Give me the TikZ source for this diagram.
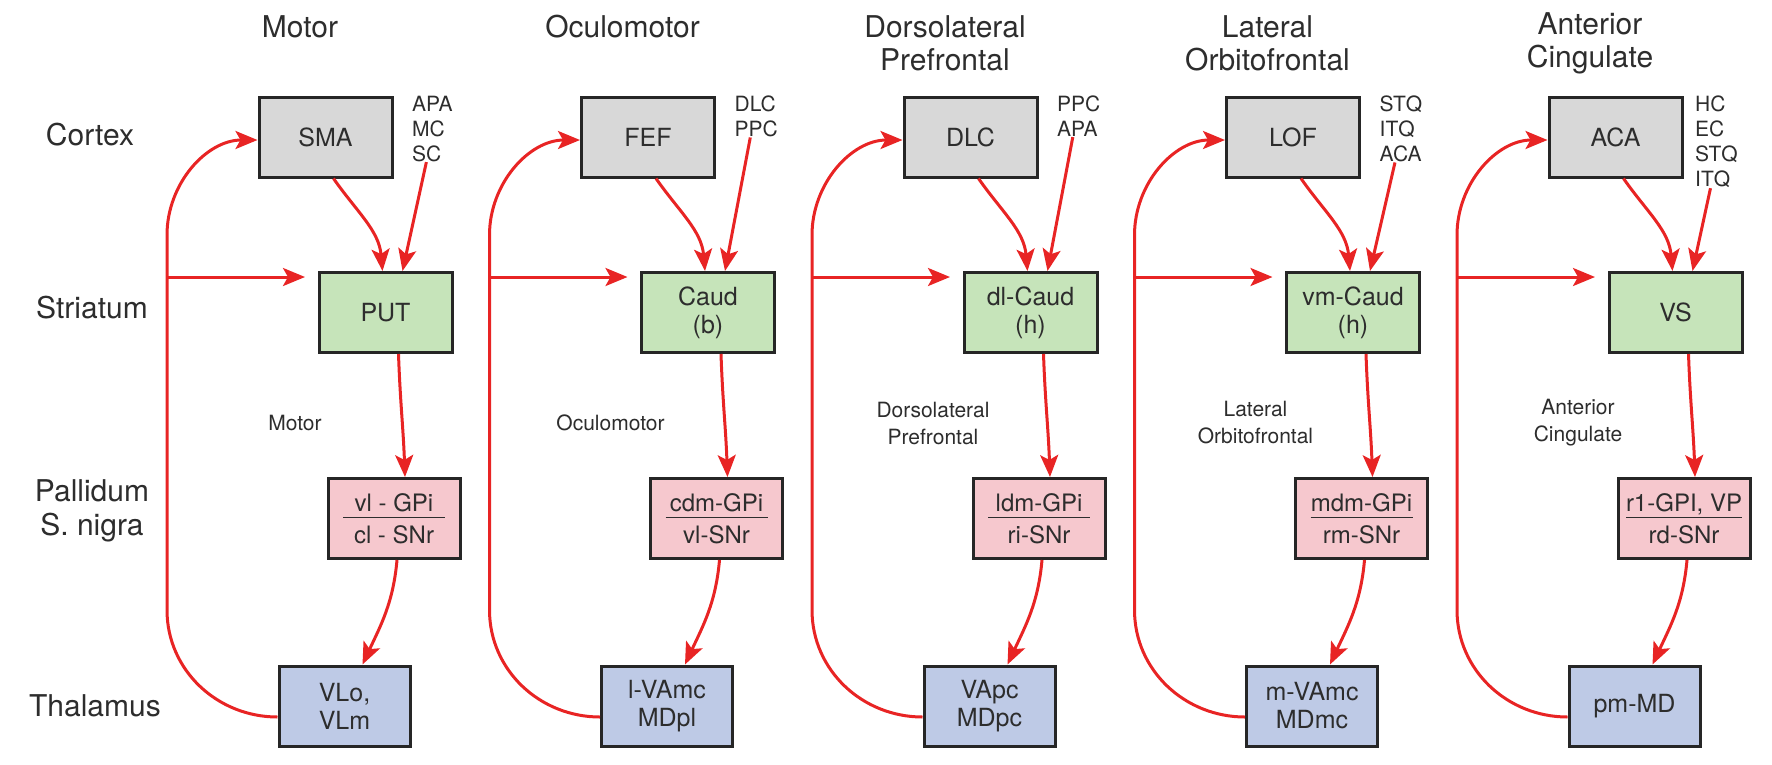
\documentclass[tikz,border=0pt]{standalone}
\usepackage{fontspec}
\setmainfont{TeX Gyre Heros}
\usetikzlibrary{arrows.meta}

\definecolor{ctxgray}{RGB}{216,216,216}
\definecolor{strgreen}{RGB}{198,228,186}
\definecolor{palpink}{RGB}{246,200,206}
\definecolor{thalblue}{RGB}{190,202,230}
\definecolor{arrred}{RGB}{232,36,36}
\definecolor{txtgray}{RGB}{45,45,45}

\tikzset{
  box/.style={draw=black!85, line width=3pt, minimum width=133pt, minimum height=80pt,
    inner sep=0pt, align=center, text=txtgray, font=\fontsize{25}{28}\selectfont},
  ctx/.style={box, fill=ctxgray},
  str/.style={box, fill=strgreen},
  pal/.style={box, fill=palpink, minimum width=132pt, font=\fontsize{24}{32}\selectfont},
  thal/.style={box, fill=thalblue, minimum width=131pt},
  title/.style={align=center, text=txtgray, font=\fontsize{30}{33}\selectfont},
  row/.style={align=center, text=txtgray, font=\fontsize{30}{34}\selectfont},
  side/.style={align=left, text=txtgray, inner sep=0pt, font=\fontsize{21}{25}\selectfont},
  mid/.style={align=center, text=txtgray, font=\fontsize{21}{27}\selectfont},
  arr/.style={draw=arrred, line width=3pt, -{Stealth[length=22pt,width=18pt,inset=5pt]}},
  sep/.style={draw=txtgray, line width=1.5pt}
}

\begin{document}
\begin{tikzpicture}[x=1pt,y=1pt]
\useasboundingbox (0,0) rectangle (1772,-764);

% row labels
\node[row] (rctx) at (90,-135) {Cortex};
\node[row] (rstr) at (92,-308) {Striatum};
\node[row] (rpal) at (92,-511) {Pallidum\\S. nigra};
\node[row] (rthal) at (95,-706) {Thalamus};

% motor
\begin{scope}[xshift=0pt]
\node[title] (tA) at (300,-27) {Motor};
\node[ctx] (ctxA) at (325.5,-137) {SMA};
\node[side, anchor=north west] (sdA) at (412,-96) {APA\\MC\\SC};
\node[str] (strA) at (385.5,-312.5) {PUT};
\node[mid] (mA) at (295,-423) {Motor};
\node[pal] (palA) at (394,-518.5) {vl - GPi\\cl - SNr};
\node[thal] (thA) at (344.5,-706) {VLo,\\VLm};
\coordinate (lbA) at (167,-610);
\coordinate (ltA) at (167,-235);
\coordinate (lpA) at (167,-277);
\coordinate (enA) at (305,-277);
\draw[sep] ([xshift=-51pt,yshift=1pt]palA.center) -- ([xshift=51pt,yshift=1pt]palA.center);
\draw[arr] ([xshift=8pt]ctxA.south) to[out=-55,in=95] ([xshift=-3pt]strA.north);
\draw[arr] ([xshift=-6pt]sdA.south) -- ([xshift=17pt]strA.north);
\draw[arr] ([xshift=13pt]strA.south) to[out=-88,in=92] ([xshift=11pt]palA.north);
\draw[arr] ([xshift=3pt]palA.south) to[out=-95,in=65] ([xshift=18pt]thA.north);
\draw[arr] ([yshift=-11pt]thA.west) to[out=180,in=-90] (lbA) -- (ltA) to[out=90,in=180] ([yshift=-3pt]ctxA.west);
\draw[arr] (lpA) -- (enA);
\end{scope}

% oculomotor
\begin{scope}[xshift=322.5pt]
\node[title] (tB) at (300,-27) {Oculomotor};
\node[ctx] (ctxB) at (325.5,-137) {FEF};
\node[side, anchor=north west] (sdB) at (412,-96) {DLC\\PPC};
\node[str] (strB) at (385.5,-312.5) {Caud\\(b)};
\node[mid] (mB) at (288,-423) {Oculomotor};
\node[pal] (palB) at (394,-518.5) {cdm-GPi\\vl-SNr};
\node[thal] (thB) at (344.5,-706) {l-VAmc\\MDpl};
\coordinate (lbB) at (167,-610);
\coordinate (ltB) at (167,-235);
\coordinate (lpB) at (167,-277);
\coordinate (enB) at (305,-277);
\draw[sep] ([xshift=-51pt,yshift=1pt]palB.center) -- ([xshift=51pt,yshift=1pt]palB.center);
\draw[arr] ([xshift=8pt]ctxB.south) to[out=-55,in=95] ([xshift=-3pt]strB.north);
\draw[arr] ([xshift=-6pt]sdB.south) -- ([xshift=17pt]strB.north);
\draw[arr] ([xshift=13pt]strB.south) to[out=-88,in=92] ([xshift=11pt]palB.north);
\draw[arr] ([xshift=3pt]palB.south) to[out=-95,in=65] ([xshift=18pt]thB.north);
\draw[arr] ([yshift=-11pt]thB.west) to[out=180,in=-90] (lbB) -- (ltB) to[out=90,in=180] ([yshift=-3pt]ctxB.west);
\draw[arr] (lpB) -- (enB);
\end{scope}

% dorsolateral prefrontal
\begin{scope}[xshift=645pt]
\node[title] (tC) at (300,-43) {Dorsolateral\\Prefrontal};
\node[ctx] (ctxC) at (325.5,-137) {DLC};
\node[side, anchor=north west] (sdC) at (412,-96) {PPC\\APA};
\node[str] (strC) at (385.5,-312.5) {dl-Caud\\(h)};
\node[mid] (mC) at (288,-423) {Dorsolateral\\Prefrontal};
\node[pal] (palC) at (394,-518.5) {ldm-GPi\\ri-SNr};
\node[thal] (thC) at (344.5,-706) {VApc\\MDpc};
\coordinate (lbC) at (167,-610);
\coordinate (ltC) at (167,-235);
\coordinate (lpC) at (167,-277);
\coordinate (enC) at (305,-277);
\draw[sep] ([xshift=-51pt,yshift=1pt]palC.center) -- ([xshift=51pt,yshift=1pt]palC.center);
\draw[arr] ([xshift=8pt]ctxC.south) to[out=-55,in=95] ([xshift=-3pt]strC.north);
\draw[arr] ([xshift=-6pt]sdC.south) -- ([xshift=17pt]strC.north);
\draw[arr] ([xshift=13pt]strC.south) to[out=-88,in=92] ([xshift=11pt]palC.north);
\draw[arr] ([xshift=3pt]palC.south) to[out=-95,in=65] ([xshift=18pt]thC.north);
\draw[arr] ([yshift=-11pt]thC.west) to[out=180,in=-90] (lbC) -- (ltC) to[out=90,in=180] ([yshift=-3pt]ctxC.west);
\draw[arr] (lpC) -- (enC);
\end{scope}

% lateral orbitofrontal
\begin{scope}[xshift=967.5pt]
\node[title] (tD) at (300,-43) {Lateral\\Orbitofrontal};
\node[ctx] (ctxD) at (325.5,-137) {LOF};
\node[side, anchor=north west] (sdD) at (412,-96) {STQ\\ITQ\\ACA};
\node[str] (strD) at (385.5,-312.5) {vm-Caud\\(h)};
\node[mid] (mD) at (288,-423) {Lateral\\Orbitofrontal};
\node[pal] (palD) at (394,-518.5) {mdm-GPi\\rm-SNr};
\node[thal] (thD) at (344.5,-706) {m-VAmc\\MDmc};
\coordinate (lbD) at (167,-610);
\coordinate (ltD) at (167,-235);
\coordinate (lpD) at (167,-277);
\coordinate (enD) at (305,-277);
\draw[sep] ([xshift=-51pt,yshift=1pt]palD.center) -- ([xshift=51pt,yshift=1pt]palD.center);
\draw[arr] ([xshift=8pt]ctxD.south) to[out=-55,in=95] ([xshift=-3pt]strD.north);
\draw[arr] ([xshift=-6pt]sdD.south) -- ([xshift=17pt]strD.north);
\draw[arr] ([xshift=13pt]strD.south) to[out=-88,in=92] ([xshift=11pt]palD.north);
\draw[arr] ([xshift=3pt]palD.south) to[out=-95,in=65] ([xshift=18pt]thD.north);
\draw[arr] ([yshift=-11pt]thD.west) to[out=180,in=-90] (lbD) -- (ltD) to[out=90,in=180] ([yshift=-3pt]ctxD.west);
\draw[arr] (lpD) -- (enD);
\end{scope}

% anterior cingulate
\begin{scope}[xshift=1290pt]
\node[title] (tE) at (300,-43) {Anterior\\Cingulate};
\node[ctx] (ctxE) at (325.5,-137) {ACA};
\node[side, anchor=north west] (sdE) at (405,-96) {HC\\EC\\STQ\\ITQ};
\node[str] (strE) at (385.5,-312.5) {VS};
\node[mid] (mE) at (288,-423) {Anterior\\Cingulate};
\node[pal] (palE) at (394,-518.5) {r1-GPI, VP\\rd-SNr};
\node[thal] (thE) at (344.5,-706) {pm-MD};
\coordinate (lbE) at (167,-610);
\coordinate (ltE) at (167,-235);
\coordinate (lpE) at (167,-277);
\coordinate (enE) at (305,-277);
\draw[sep] ([xshift=-58pt,yshift=1pt]palE.center) -- ([xshift=58pt,yshift=1pt]palE.center);
\draw[arr] ([xshift=8pt]ctxE.south) to[out=-55,in=95] ([xshift=-3pt]strE.north);
\draw[arr] ([xshift=-6pt]sdE.south) -- ([xshift=17pt]strE.north);
\draw[arr] ([xshift=13pt]strE.south) to[out=-88,in=92] ([xshift=11pt]palE.north);
\draw[arr] ([xshift=3pt]palE.south) to[out=-95,in=65] ([xshift=18pt]thE.north);
\draw[arr] ([yshift=-11pt]thE.west) to[out=180,in=-90] (lbE) -- (ltE) to[out=90,in=180] ([yshift=-3pt]ctxE.west);
\draw[arr] (lpE) -- (enE);
\end{scope}

\end{tikzpicture}
\end{document}
